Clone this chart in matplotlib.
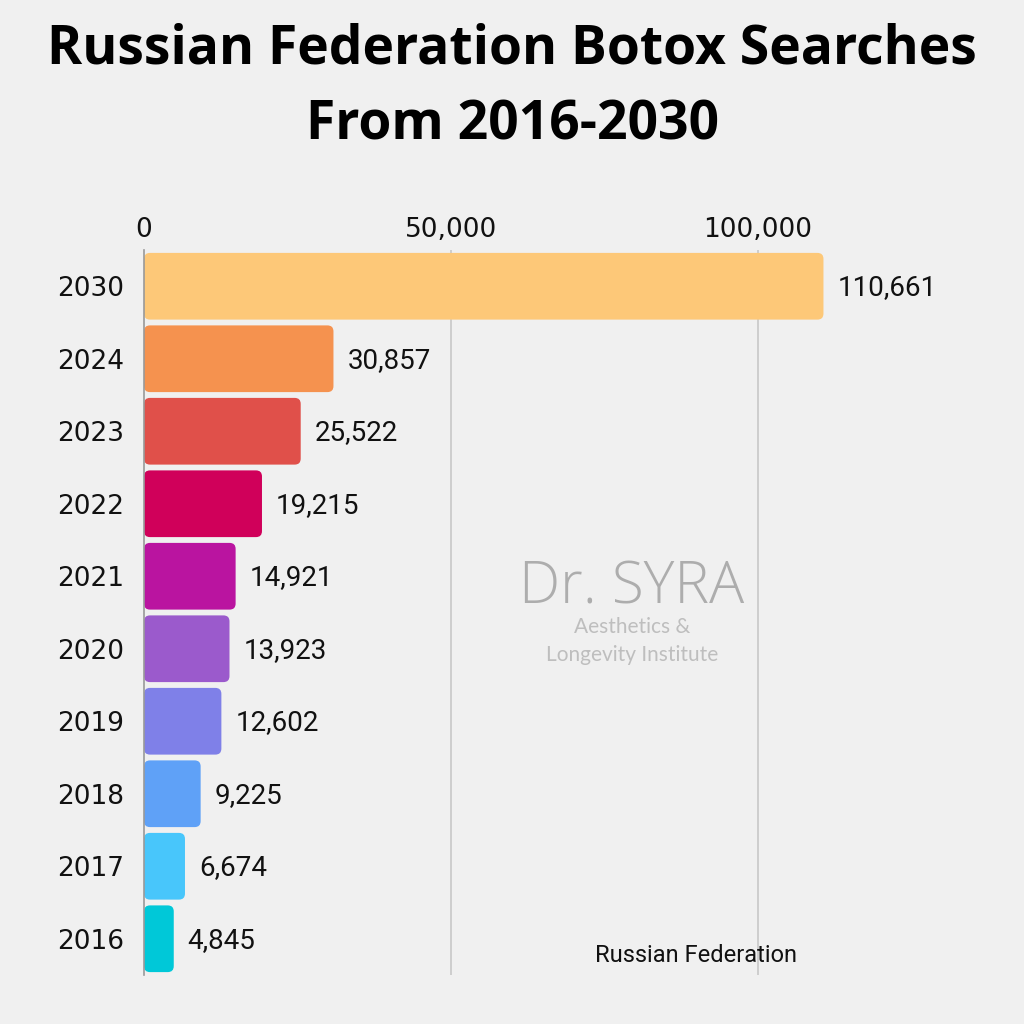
import matplotlib.pyplot as plt
from matplotlib.patches import FancyBboxPatch

# données
years = ["2030", "2024", "2023", "2022", "2021", "2020", "2019", "2018", "2017", "2016"]
searches = [110661, 30857, 25522, 19215, 14921, 13923, 12602, 9225, 6674, 4845]
colors = ["#FDC878", "#F5924F", "#E0504A", "#D0005A", "#BA14A0",
          "#9B5ACC", "#7F80E8", "#5FA1F7", "#48C6FB", "#00C8D8"]
ticks = [0, 50000, 100000]
tick_labels = ["0", "50,000", "100,000"]

bg = "#F0F0F0"
plt.rcParams['font.family'] = ['Open Sans', 'DejaVu Sans']
geo = ["DejaVu Sans"]
cond = ["Roboto", "DejaVu Sans"]

fig = plt.figure(figsize=(10.24, 10.24), dpi=100, facecolor=bg)
ax = fig.add_axes([144/1024, 1 - 975/1024, (900-144)/1024, 725/1024])
ax.set_facecolor(bg)

xmax = (900 - 144) / 307 * 50000
ax.set_xlim(0, xmax)
ax.set_ylim(len(years) - 0.5, -0.5)

pos = list(range(len(years)))
bars = ax.barh(pos, searches, height=0.92, color=colors)

# coins arrondis : on remplace chaque barre par une boîte arrondie
px_x = xmax / 756.0
px_y = 1 / 72.5
for b, c in zip(bars, colors):
    x0, y0 = b.get_x(), b.get_y()
    w, h = b.get_width(), b.get_height()
    b.set_visible(False)
    p = FancyBboxPatch((x0, y0), w, h,
                       boxstyle=f"round,pad=0,rounding_size={6*px_x}",
                       mutation_aspect=px_y / px_x,
                       facecolor=c, edgecolor="none", zorder=2)
    ax.add_patch(p)

for i, v in enumerate(searches):
    ax.text(v + 14 * px_x, i + 0.02, f"{v:,}", va="center", ha="left", fontsize=20,
            color="#111111", family=cond)

ax.set_xticks(ticks)
ax.set_xticklabels(tick_labels, fontsize=19, color="#111111", family=geo)
ax.xaxis.tick_top()
ax.tick_params(axis="x", length=0, pad=5)
ax.set_yticks(pos)
ax.set_yticklabels(years, fontsize=19, color="#111111", family=geo)
ax.tick_params(axis="y", length=0, pad=14)

for t in ticks[1:]:
    ax.axvline(t, color="#C8C8C8", lw=1.2, zorder=1)
for s in ["top", "right", "bottom"]:
    ax.spines[s].set_visible(False)
ax.spines["left"].set_color("#999999")
ax.spines["left"].set_linewidth(1.2)
ax.spines["left"].set_zorder(3)

# titre
fig.text(0.5, 1 - 50/1024, "Russian Federation Botox Searches", ha="center", va="center",
         fontsize=38.5, fontweight="bold", color="black")
fig.text(0.5, 1 - 126/1024, "From 2016-2030", ha="center", va="center",
         fontsize=38.5, fontweight="bold", color="black")

# filigrane
fig.text(632/1024, 1 - 588/1024, "Dr. SYRA", ha="center", va="center",
         fontsize=42, color="#ADADAD", family=["Open Sans", "DejaVu Sans"], fontweight=300)
fig.text(632/1024, 1 - 627/1024, "Aesthetics &", ha="center", va="center",
         fontsize=15, color="#BEBEBE", family=["Lato", "DejaVu Sans"])
fig.text(632/1024, 1 - 655/1024, "Longevity Institute", ha="center", va="center",
         fontsize=15, color="#BEBEBE", family=["Lato", "DejaVu Sans"])

fig.text(696/1024, 1 - 955/1024, "Russian Federation", ha="center", va="center",
         fontsize=17, color="#111111", family=cond)

fig.savefig("out.png", dpi=100, facecolor=bg)
